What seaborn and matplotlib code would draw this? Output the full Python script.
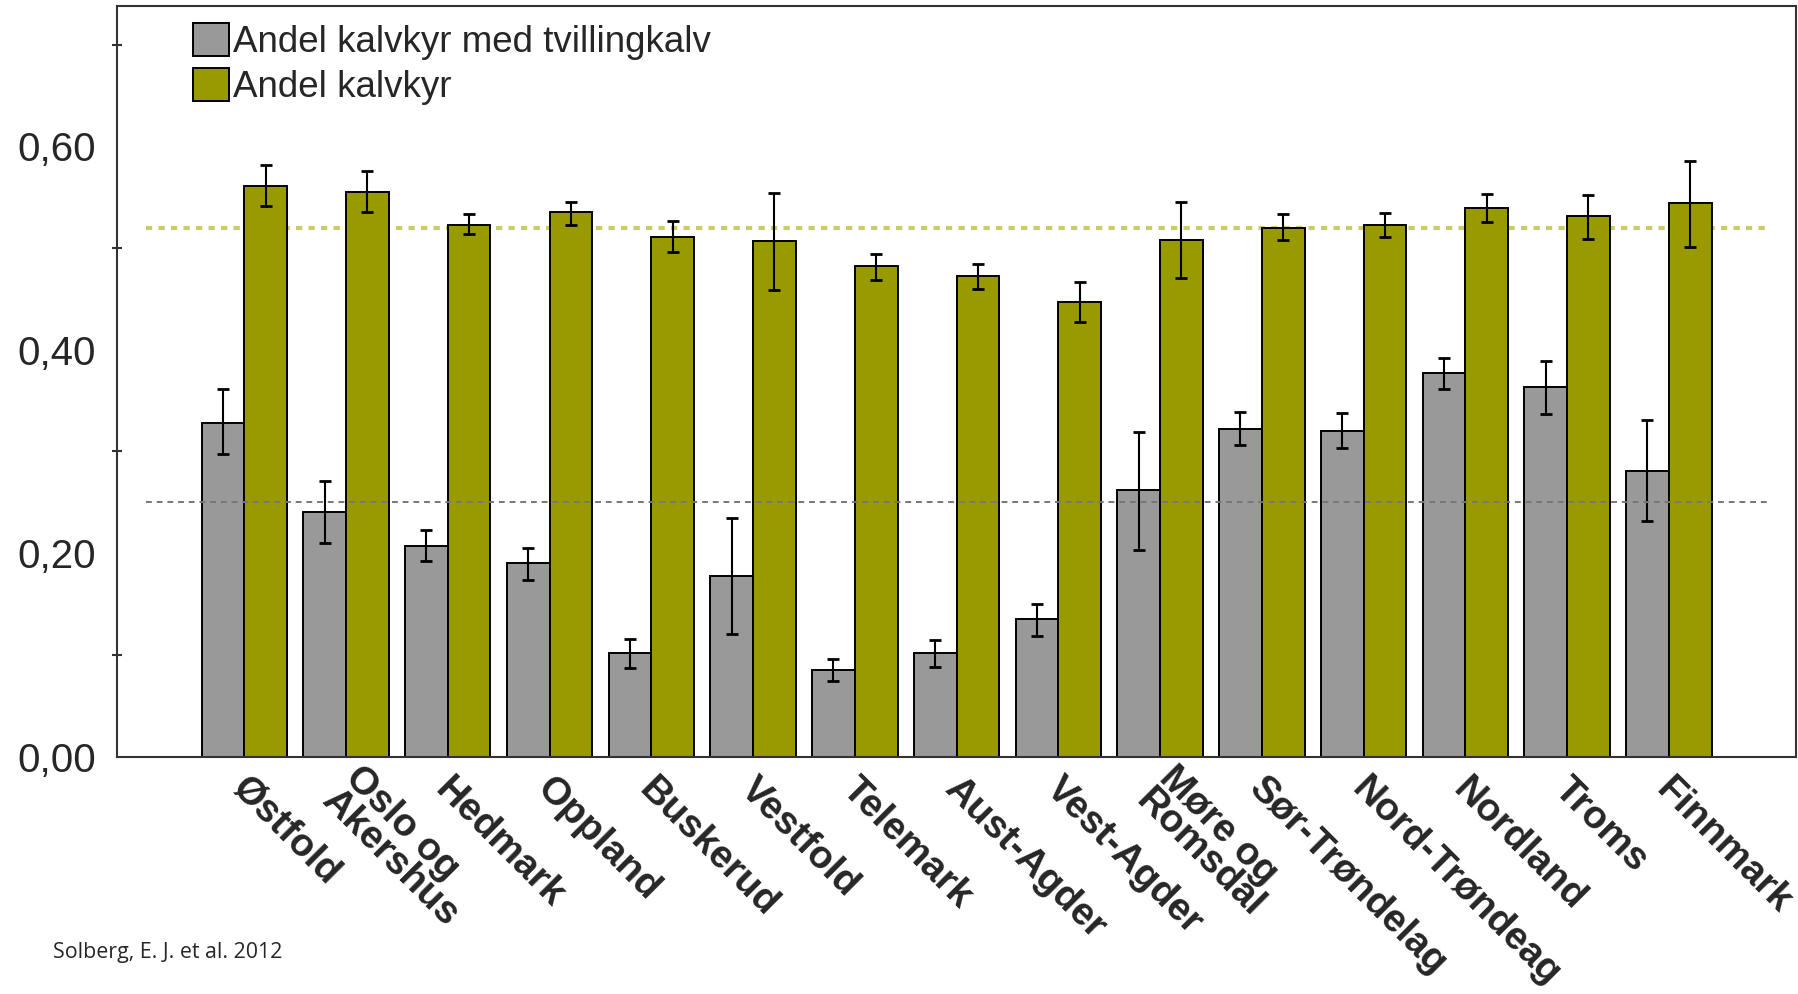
import pandas as pd
import matplotlib
matplotlib.use("Agg")
import matplotlib.pyplot as plt
import matplotlib.transforms as mtransforms
import seaborn as sns

# fylker (x-akse)
regions = ["Østfold", "Oslo og\nAkershus", "Hedmark", "Oppland", "Buskerud", "Vestfold",
           "Telemark", "Aust-Agder", "Vest-Agder", "Møre og\nRomsdal", "Sør-Trøndelag",
           "Nord-Trøndeag", "Nordland", "Troms", "Finnmark"]

# andel kalvkyr med tvillingkalv + konfidensintervall
twin = [0.328, 0.240, 0.207, 0.190, 0.102, 0.178, 0.085, 0.102, 0.135, 0.262, 0.322, 0.320, 0.377, 0.363, 0.281]
twin_lo = [0.297, 0.210, 0.192, 0.174, 0.087, 0.120, 0.074, 0.088, 0.119, 0.203, 0.306, 0.303, 0.361, 0.337, 0.232]
twin_hi = [0.361, 0.271, 0.223, 0.205, 0.116, 0.235, 0.096, 0.115, 0.150, 0.319, 0.339, 0.338, 0.392, 0.389, 0.331]

# andel kalvkyr + konfidensintervall
calf = [0.561, 0.555, 0.523, 0.535, 0.511, 0.507, 0.482, 0.472, 0.447, 0.508, 0.520, 0.523, 0.539, 0.531, 0.544]
calf_lo = [0.541, 0.535, 0.514, 0.523, 0.496, 0.459, 0.469, 0.460, 0.427, 0.471, 0.508, 0.511, 0.526, 0.509, 0.501]
calf_hi = [0.582, 0.576, 0.533, 0.545, 0.527, 0.554, 0.494, 0.484, 0.467, 0.545, 0.533, 0.534, 0.553, 0.552, 0.586]

series_names = ["Andel kalvkyr med tvillingkalv", "Andel kalvkyr"]
ref_twin = 0.25
ref_calf = 0.52
ytick_vals = [0.0, 0.2, 0.4, 0.6]
ytick_labels = ["0,00", "0,20", "0,40", "0,60"]
source = "Solberg, E. J. et al. 2012"

df = pd.DataFrame({
    "region": regions * 2,
    "serie": [series_names[0]] * len(regions) + [series_names[1]] * len(regions),
    "andel": twin + calf,
})

sns.set_style("white")
plt.rcParams["font.family"] = ["Liberation Sans", "DejaVu Sans"]

fig = plt.figure(figsize=(17.98, 9.94), dpi=100)
ax = fig.add_axes([0.0651, 0.2389, 0.9338, 0.7551])

sns.barplot(data=df, x="region", y="andel", hue="serie", hue_order=series_names,
            palette=["#999999", "#999900"], saturation=1, width=0.84, errorbar=None,
            edgecolor="black", linewidth=1.4, ax=ax, zorder=2)

# feilstolper
for cont, mid, lo, hi in zip(ax.containers[:2], [twin, calf], [twin_lo, calf_lo], [twin_hi, calf_hi]):
    xs = [b.get_x() + b.get_width() / 2 for b in cont]
    yerr = [[m - l for m, l in zip(mid, lo)], [h - m for m, h in zip(mid, hi)]]
    ax.errorbar(xs, mid, yerr=yerr, fmt="none", ecolor="black", elinewidth=1.5,
                capsize=4, capthick=2, zorder=4)

# referanselinjer
ax.hlines(ref_calf, -0.97, len(regions) - 0.03, colors="#cccc66", linestyles=(0, (1.5, 1.5)),
          linewidth=3, zorder=1)
ax.hlines(ref_twin, -0.97, len(regions) - 0.03, colors="#777777", linestyles=(0, (3, 2.5)),
          linewidth=1.4, zorder=5)

ax.set_xlim(-1.25, len(regions) - 1 + 1.25)
ax.set_ylim(0, 0.738)
ax.set_xlabel("")
ax.set_ylabel("")

ax.set_yticks(ytick_vals)
ax.set_yticklabels(ytick_labels, fontsize=29)
ax.set_yticks([0.1, 0.3, 0.5, 0.7], minor=True)
ax.tick_params(axis="y", which="major", direction="out", length=11, width=1.5, color="#333333", pad=4)
ax.tick_params(axis="y", which="minor", direction="inout", length=7, width=1.5, color="#333333", left=True)
ax.tick_params(axis="x", direction="out", length=14.5, width=1.5, color="#444444", pad=0)

ax.set_xticks(range(len(regions)))
ax.set_xticklabels(regions, rotation=-45, ha="left", va="center", rotation_mode="anchor",
                   fontsize=28, fontweight="bold", linespacing=0.88)
# va=center: flytt ankeret litt ned langs teksten
shift = mtransforms.ScaledTranslation(-5 / 72, -5 / 72, fig.dpi_scale_trans)
for lab in ax.get_xticklabels():
    lab.set_transform(lab.get_transform() + shift)

for s in ax.spines.values():
    s.set_visible(True)
    s.set_color("#333333")
    s.set_linewidth(1.5)

handles, labels = ax.get_legend_handles_labels()
ax.legend(handles, labels, loc="upper left", bbox_to_anchor=(0.045, 0.977), frameon=False,
          fontsize=26.5, handlelength=1.0, handleheight=1.0, handletextpad=0.1,
          labelspacing=0.2, borderpad=0, borderaxespad=0)

fig.text(0.0295, 0.036, source, fontsize=15.4, family=["Open Sans", "DejaVu Sans"], va="baseline")

fig.savefig("out.png", dpi=100)
